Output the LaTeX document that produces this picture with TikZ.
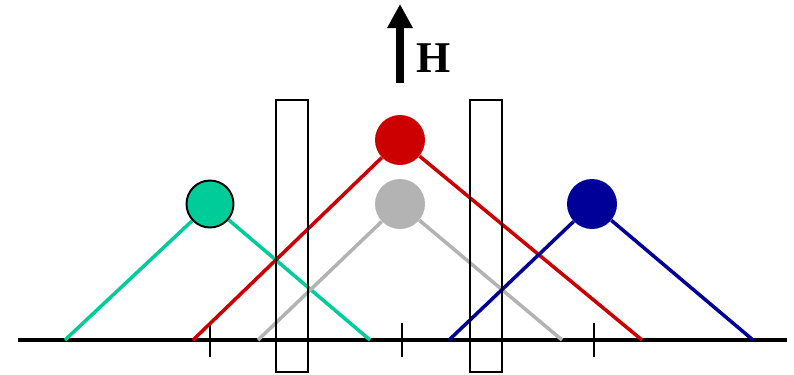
\documentclass[tikz,border=0pt]{standalone}
\usepackage{fontspec}
\setmainfont{Liberation Serif}
\definecolor{spingreen}{HTML}{00CC99}
\definecolor{spinred}{HTML}{CC0000}
\definecolor{spingray}{HTML}{B3B3B3}
\definecolor{spinblue}{HTML}{000099}
\usepackage{tikz}
\usetikzlibrary{arrows.meta}

\begin{document}
\begin{tikzpicture}[
    x=0.2mm, y=-0.2mm,
    ball/.style={circle, minimum size=10mm, inner sep=0pt},
    leg/.style={line width=2pt},
    axisline/.style={line width=2.3pt, black},
    tickmark/.style={line width=1.1pt, black},
    slab/.style={draw=black, line width=1.1pt},
    field/.style={-{Triangle[length=4.8mm, width=4.8mm]}, line width=4.5pt, black},
    flabel/.style={font=\fontsize{25}{30}\selectfont\bfseries, inner sep=0pt},
  ]

  \useasboundingbox (0,0) rectangle (794,374);

  % axis with ticks
  \coordinate (AXL) at (18,340);
  \coordinate (AXR) at (787,340);
  \draw[axisline] (AXL) -- (AXR);
  \foreach \tx in {210,402,594}
    \draw[tickmark] (\tx,323) -- (\tx,357);

  % field arrow
  \coordinate (HB) at (400,83);
  \coordinate (HT) at (400,4);
  \draw[field] (HB) -- (HT);
  \node[flabel] (HLBL) at (434,58) {H};

  % feet on the axis
  \coordinate (G1) at (65,340);   \coordinate (G2) at (370,340);
  \coordinate (R1) at (193,340);  \coordinate (R2) at (642,340);
  \coordinate (S1) at (258,340);  \coordinate (S2) at (562,340);
  \coordinate (B1) at (449,340);  \coordinate (B2) at (753,340);

  % levels
  \node[ball, minimum size=9.4mm, fill=spingreen, draw=black, line width=1.1pt] (GREEN) at (210,204) {};
  \node[ball, fill=spinred]  (RED)  at (400,140) {};
  \node[ball, fill=spingray] (GRAY) at (400,204) {};
  \node[ball, fill=spinblue] (BLUE) at (592,204) {};

  \draw[leg, spingreen] (G1) -- (GREEN);
  \draw[leg, spingreen] (GREEN) -- (G2);
  \draw[leg, spinred] (R1) -- (RED);
  \draw[leg, spinred] (RED) -- (R2);
  \draw[leg, spingray] (S1) -- (GRAY);
  \draw[leg, spingray] (GRAY) -- (S2);
  \draw[leg, spinblue] (B1) -- (BLUE);
  \draw[leg, spinblue] (BLUE) -- (B2);

  % windows
  \draw[slab] (276,100) rectangle (308,372);
  \draw[slab] (470,100) rectangle (502,372);

\end{tikzpicture}
\end{document}
